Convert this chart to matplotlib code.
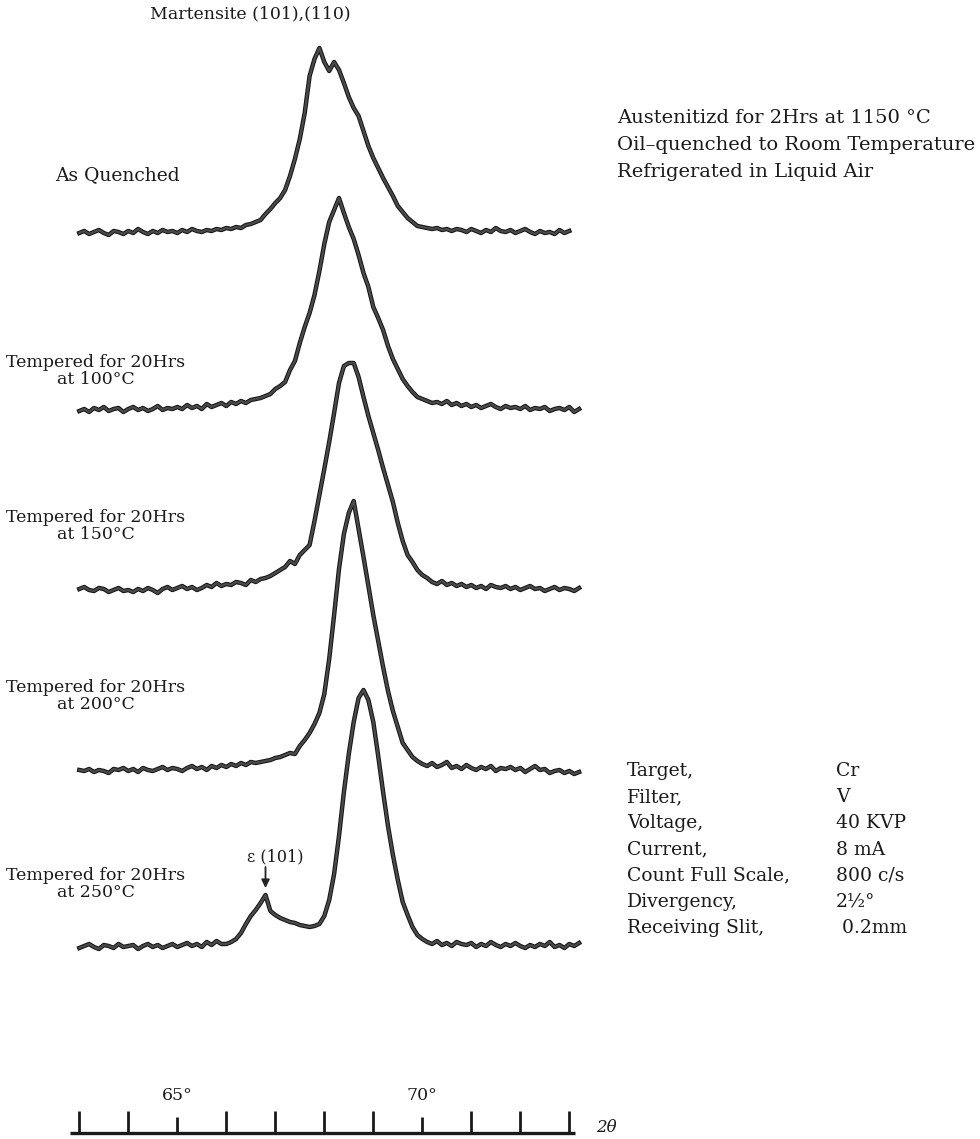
import numpy as np
import matplotlib.pyplot as plt
import matplotlib.patheffects as pe

plt.rcParams['font.family'] = ['DejaVu Serif']

# diffractometer scan: 2-theta in degrees, 0.1 deg per reading starting at 63.0
scan_start = 63.0
scan_step = 0.1

# intensities (chart units above each trace's own baseline)
as_quenched = [1, 3, 0, 2, 4, 1, -1, 3, 2, 0,
               3, 1, 5, 2, 0, 3, 1, 4, 2, 3,
               1, 4, 2, 5, 3, 2, 4, 3, 5, 4,
               6, 5, 7, 6, 9, 10, 12, 14, 20, 25,
               31, 36, 44, 58, 75, 95, 121, 158, 175, 186,
               172, 163, 172, 164, 151, 137, 126, 118, 103, 88,
               76, 66, 56, 47, 38, 28, 22, 16, 12, 8,
               7, 6, 5, 6, 4, 5, 3, 5, 4, 2,
               5, 3, 1, 4, 2, 6, 3, 2, 4, 1,
               3, 5, 2, 0, 3, 1, 2, 0, 4, 1,
               3]

tempered_100 = [0, 2, -1, 3, 1, 4, 0, 2, 3, -1,
                2, 4, 1, 3, 0, 2, 5, 1, 3, 2,
                4, 2, 6, 3, 5, 2, 7, 4, 6, 8,
                5, 9, 7, 10, 8, 11, 12, 13, 15, 17,
                22, 25, 29, 41, 50, 68, 84, 98, 116, 140,
                167, 189, 201, 213, 198, 184, 172, 156, 138, 124,
                104, 93, 81, 65, 52, 42, 32, 25, 19, 14,
                12, 10, 8, 9, 7, 10, 6, 8, 5, 7,
                4, 6, 3, 5, 7, 4, 2, 5, 3, 4,
                2, 5, 1, 3, 2, 4, 0, 2, 3, 1,
                4, -1, 2]

tempered_150 = [2, 4, 1, 0, 3, 2, -1, 1, 3, 0,
                1, -1, 2, 0, 3, 1, -2, 2, 4, 1,
                3, 5, 2, 4, 1, 3, 6, 4, 8, 5,
                7, 6, 9, 8, 6, 11, 9, 12, 13, 15,
                18, 21, 24, 30, 27, 36, 41, 46, 70, 96,
                122, 149, 178, 208, 225, 228, 228, 214, 194, 175,
                158, 141, 123, 106, 89, 68, 50, 36, 29, 21,
                16, 13, 9, 7, 10, 6, 8, 5, 7, 4,
                6, 3, 5, 2, 6, 4, 3, 5, 2, 4,
                1, 3, 5, 2, 3, 0, 2, 4, 1, 3,
                2, 0, 3]

tempered_200 = [1, 0, 2, -1, 1, 0, -2, 2, 1, 3,
                0, 2, -1, 3, 1, 0, 2, 4, 1, 3,
                2, 0, 3, 5, 2, 4, 1, 5, 3, 6,
                4, 7, 5, 8, 6, 9, 8, 9, 10, 11,
                13, 14, 16, 18, 17, 25, 31, 38, 47, 58,
                77, 112, 156, 202, 237, 258, 270, 242, 214, 185,
                156, 130, 104, 80, 60, 44, 28, 21, 14, 10,
                7, 5, 8, 4, 6, 9, 3, 5, 2, 6,
                3, 1, 4, 2, 5, 0, 3, 2, 4, 1,
                3, -1, 2, 5, 1, 2, -2, 0, 1, -2,
                0, -3, -1]

tempered_250 = [0, 2, 4, 1, -1, 3, 2, 0, 4, 1,
                2, 3, -1, 2, 4, 1, 3, 0, 2, 4,
                1, 3, 5, 2, 4, 1, 6, 3, 7, 4,
                4, 6, 9, 15, 24, 32, 38, 45, 53, 37,
                33, 30, 28, 26, 25, 23, 22, 21, 22, 24,
                32, 48, 74, 112, 156, 194, 226, 250, 258, 248,
                226, 192, 156, 122, 93, 68, 46, 33, 21, 13,
                9, 6, 4, 7, 3, 5, 2, 6, 4, 3,
                5, 1, 4, 2, 6, 3, 1, 4, 2, 5,
                2, 0, 3, 1, 4, 2, 6, 1, 3, 0,
                4, 2, 5]

traces = [as_quenched, tempered_100, tempered_150, tempered_200, tempered_250]
trace_labels = ["As Quenched",
                "Tempered for 20Hrs\nat 100°C",
                "Tempered for 20Hrs\nat 150°C",
                "Tempered for 20Hrs\nat 200°C",
                "Tempered for 20Hrs\nat 250°C"]

axis_ticks = [63, 64, 65, 66, 67, 68, 69, 70, 71, 72, 73]
labelled_ticks = [65, 70]

conditions = ["Austenitizd for 2Hrs at 1150 °C",
              "Oil–quenched to Room Temperature",
              "Refrigerated in Liquid Air"]
param_names = ["Target,", "Filter,", "Voltage,", "Current,",
               "Count Full Scale,", "Divergency,", "Receiving Slit,"]
param_values = ["Cr", "V", "40 KVP", "8 mA", "800 c/s", "2½°", " 0.2mm"]

# ---- layout (pixels of the 980x1139 page) ----
W, H = 980, 1139
px_per_deg = 49.0
x63_px = 79.3
baselines = [234, 411, 591, 771, 948]   # vertical position of each trace
axis_y = 1133
ink = '#1a1a1a'

fig = plt.figure(figsize=(W / 100, H / 100), dpi=100)
ax = fig.add_axes([0, 0, 1, 1])
left = 63 - x63_px / px_per_deg
ax.set_xlim(left, left + W / px_per_deg)
ax.set_ylim(H, 0)
ax.axis('off')


def put(px, py, s, **kw):
    fig.text(px / W, 1 - py / H, s, color=ink, **kw)


pen = [pe.Stroke(linewidth=3.2, foreground='#151515'), pe.Normal()]
for vals, base in zip(traces, baselines):
    vals = np.array(vals, dtype=float)
    x = scan_start + scan_step * np.arange(len(vals))
    ax.plot(x, base - vals, color='#4a4a4a', lw=1.7,
            solid_joinstyle='round', path_effects=pen)

# trace labels
put(55, 175, trace_labels[0], fontsize=13.5, ha='left', va='center')
for lab, yc in zip(trace_labels[1:], [371, 526, 696, 884]):
    put(96, yc, lab, fontsize=12.5, ha='center', va='center',
        multialignment='center', linespacing=0.95)

put(250, 14, "Martensite (101),(110)", fontsize=12.5, ha='center', va='center')

# epsilon carbide marker, placed over the small peak of the last trace
eps = np.array(tempered_250, dtype=float)
xs = scan_start + scan_step * np.arange(len(eps))
m = xs < 67.5
i_eps = int(np.argmax(np.where(m, eps, -1e9)))
eps_x = xs[i_eps]
eps_top = baselines[4] - eps[i_eps]
ax.annotate('', xy=(eps_x, eps_top - 7), xytext=(eps_x, eps_top - 28),
            arrowprops=dict(arrowstyle='-|>', color='#222222', lw=1.3,
                            mutation_scale=12, shrinkA=0, shrinkB=0))
ax.text(eps_x + 0.2, eps_top - 38, "ε (101)", fontsize=11.5, ha='center',
        va='center', color=ink)

# right-hand notes
for k, s in enumerate(conditions):
    put(617, 118 + 27 * k, s, fontsize=14.0, ha='left', va='center')
for k, (n, v) in enumerate(zip(param_names, param_values)):
    yy = 771 + 26.2 * k
    put(627, yy, n, fontsize=13.5, ha='left', va='center')
    put(836, yy, v, fontsize=13.5, ha='left', va='center')

# 2-theta scale at the bottom
ax.plot([62.82, 73.12], [axis_y, axis_y], color=ink, lw=2.4,
        solid_capstyle='butt')
for t in axis_ticks:
    top = axis_y - (16 if t in labelled_ticks else 22)
    ax.plot([t, t], [axis_y, top], color=ink, lw=2.0, solid_capstyle='butt')
for t in labelled_ticks:
    ax.text(t, axis_y - 37, f"{t}°", fontsize=12.5, ha='center', va='center',
            color=ink)
put(596, axis_y - 6, "2θ", fontsize=12, style='italic', ha='left', va='center')

fig.savefig("out.png", dpi=100, facecolor='white')
